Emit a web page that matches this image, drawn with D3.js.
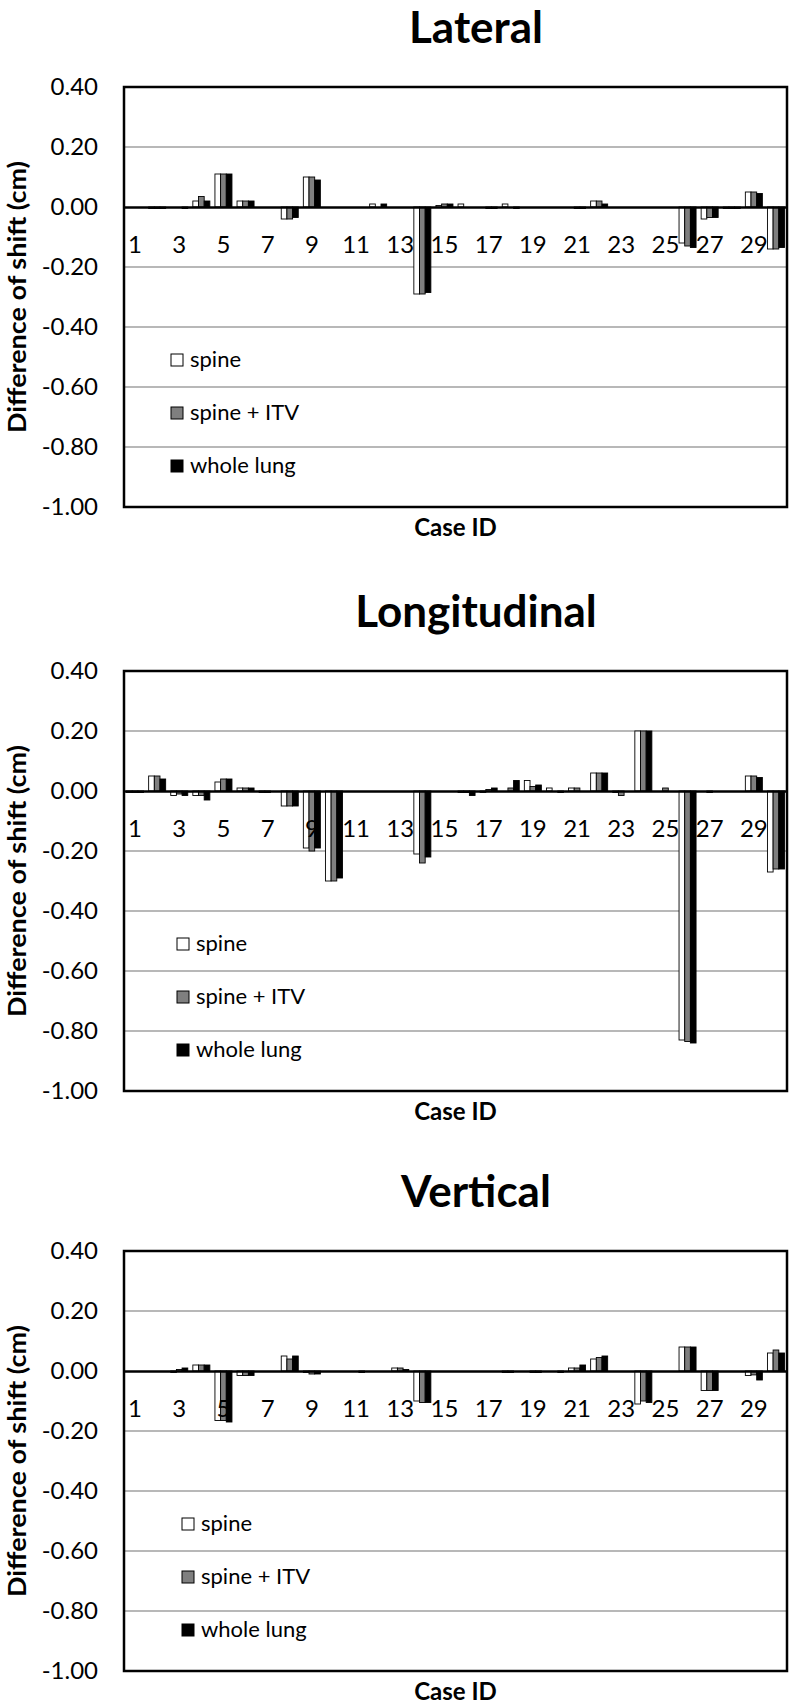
<!DOCTYPE html>
<html><head><meta charset="utf-8">
<script src="https://cdn.jsdelivr.net/npm/d3@7"></script>
<style>body{margin:0;background:#fff}svg{display:block}text{font-family:Lato,"Open Sans",sans-serif}</style>
</head><body><svg id="c" width="793" height="1706"></svg>
<script>
const cases = [1,2,3,4,5,6,7,8,9,10,11,12,13,14,15,16,17,18,19,20,21,22,23,24,25,26,27,28,29,30];
const xTickCases = [1,3,5,7,9,11,13,15,17,19,21,23,25,27,29];
const seriesNames = ["spine", "spine + ITV", "whole lung"];
const chartTitles = ["Lateral", "Longitudinal", "Vertical"];
const yTicks = [0.4, 0.2, 0, -0.2, -0.4, -0.6, -0.8, -1.0];
const yTickLabels = ["0.40", "0.20", "0.00", "-0.20", "-0.40", "-0.60", "-0.80", "-1.00"];
const yTitle = "Difference of shift (cm)";
const xTitle = "Case ID";

const lateralSpine = [0,-0.005,0,0.02,0.11,0.02,0,-0.04,0.10,0,0,0.01,0,-0.29,0.005,0.01,0,0.01,0,0,0,0.02,0,0,0,-0.12,-0.04,-0.005,0.05,-0.14];
const lateralITV   = [0,-0.005,0,0.035,0.11,0.02,0,-0.04,0.10,0,0,0,0,-0.29,0.01,0,-0.005,0,0,0,-0.005,0.02,0,0,0,-0.13,-0.035,-0.005,0.05,-0.14];
const lateralLung  = [0,-0.005,-0.005,0.02,0.11,0.02,0,-0.035,0.09,0,0,0.01,0,-0.285,0.01,0,-0.005,-0.005,0,0,-0.005,0.01,0,0,0,-0.135,-0.035,-0.005,0.045,-0.135];

const longSpine = [-0.005,0.05,-0.015,-0.015,0.03,0.01,-0.005,-0.05,-0.19,-0.30,0,0,0,-0.21,0,-0.005,-0.005,0,0.035,0.01,0.01,0.06,-0.005,0.20,0,-0.83,0,0,0.05,-0.27];
const longITV   = [-0.005,0.05,-0.01,-0.015,0.04,0.01,-0.005,-0.05,-0.20,-0.30,0,0,0,-0.24,0,-0.005,0.005,0.01,0.015,0,0.01,0.06,-0.015,0.20,0.01,-0.835,-0.005,0,0.05,-0.26];
const longLung  = [-0.005,0.04,-0.015,-0.03,0.04,0.01,0,-0.05,-0.19,-0.29,0,0,0,-0.22,0,-0.015,0.01,0.035,0.02,-0.005,0,0.06,0,0.20,0,-0.84,0,0,0.045,-0.26];

const vertSpine = [0,0,-0.005,0.02,-0.165,-0.015,0,0.05,-0.005,0,0,0,0.01,-0.10,0,0,0,-0.005,0,0,0.01,0.04,0,-0.11,0,0.08,-0.065,0,-0.015,0.06];
const vertITV   = [0,0,0.005,0.02,-0.165,-0.015,0,0.04,-0.01,0,0,0,0.01,-0.105,0,0,0,-0.005,-0.005,0,0.01,0.045,0,-0.10,0,0.08,-0.065,0,-0.013,0.07];
const vertLung  = [0,0,0.01,0.02,-0.17,-0.015,0,0.05,-0.01,0,-0.005,0,0.005,-0.105,0,0,0,0,-0.005,-0.005,0.02,0.05,0,-0.105,0,0.08,-0.065,0,-0.03,0.06];

const chartSeries = [
  [lateralSpine, lateralITV, lateralLung],
  [longSpine, longITV, longLung],
  [vertSpine, vertITV, vertLung]
];

// layout
const plotLeft = 124, plotW = 663, plotH = 420;
const plotTops = [87, 671, 1251];
const legendOffsets = [47, 53, 58];
const fills = ["#ffffff", "#7f7f7f", "#000000"];

const svg = d3.select("#c");

const x = d3.scaleBand().domain(cases).range([0, plotW]).paddingInner(0.23).paddingOuter(0.115);
const xs = d3.scaleBand().domain(seriesNames).range([0, x.bandwidth()]);
const y = d3.scaleLinear().domain([-1.0, 0.4]).range([plotH, 0]);

chartSeries.forEach((ser, ci) => {
  const top = plotTops[ci];
  // title
  svg.append("text").attr("x", 476).attr("y", top - 44)
    .attr("text-anchor", "middle").attr("font-size", 44).attr("font-weight", 700)
    .text(chartTitles[ci]);

  const g = svg.append("g").attr("transform", `translate(${plotLeft},${top})`);

  // gridlines
  g.append("g").selectAll("line").data(yTicks.filter(t => t !== 0.4 && t !== -1.0 && t !== 0))
    .join("line").attr("x1", 0).attr("x2", plotW)
    .attr("y1", d => y(d)).attr("y2", d => y(d))
    .attr("stroke", "#a0a0a0").attr("stroke-width", 1.6);

  // bars
  const data = [];
  ser.forEach((vals, si) => vals.forEach((v, i) => { if (v !== 0) data.push({c: cases[i], s: seriesNames[si], si, v}); }));
  g.append("g").selectAll("rect").data(data).join("rect")
    .attr("x", d => x(d.c) + xs(d.s))
    .attr("width", xs.bandwidth())
    .attr("y", d => y(Math.max(0, d.v)))
    .attr("height", d => Math.abs(y(d.v) - y(0)))
    .attr("fill", d => fills[d.si])
    .attr("stroke", "#000").attr("stroke-width", 0.9);

  // y axis
  const ya = g.append("g").call(d3.axisLeft(y).tickValues(yTicks)
      .tickFormat((d, i) => yTickLabels[i]).tickSize(0).tickPadding(26));
  ya.select(".domain").remove();
  ya.selectAll("text").attr("font-size", 24).attr("fill", "#000").style("font-family", "Lato");

  // x axis at zero
  const xa = g.append("g").attr("transform", `translate(0,${y(0)})`)
    .call(d3.axisBottom(x).tickValues(xTickCases).tickSize(0).tickPadding(29));
  xa.select(".domain").attr("stroke", "#000").attr("stroke-width", 2.5);
  xa.selectAll("text").attr("font-size", 24).attr("fill", "#000").style("font-family", "Lato");

  // frame
  g.append("rect").attr("x", 0).attr("y", 0).attr("width", plotW).attr("height", plotH)
    .attr("fill", "none").attr("stroke", "#000").attr("stroke-width", 2.5);

  // legend
  const lg = g.append("g").attr("transform", `translate(${legendOffsets[ci]},0)`);
  seriesNames.forEach((name, si) => {
    const cy = 273 + si * 53;
    lg.append("rect").attr("x", 0).attr("y", cy - 6).attr("width", 12).attr("height", 12)
      .attr("fill", fills[si]).attr("stroke", "#000").attr("stroke-width", 1);
    lg.append("text").attr("x", 19).attr("y", cy + 7).attr("font-size", 22).text(name);
  });

  // axis titles
  svg.append("text").attr("transform", `translate(16,${top + plotH / 2}) rotate(-90)`)
    .attr("text-anchor", "middle").attr("dominant-baseline", "central")
    .attr("font-size", 24).attr("font-weight", 700)
    .attr("textLength", 272).attr("lengthAdjust", "spacingAndGlyphs")
    .text(yTitle);
  svg.append("text").attr("x", plotLeft + plotW / 2).attr("y", top + plotH + 29)
    .attr("text-anchor", "middle").attr("font-size", 24).attr("font-weight", 700)
    .text(xTitle);
});
</script></body></html>
